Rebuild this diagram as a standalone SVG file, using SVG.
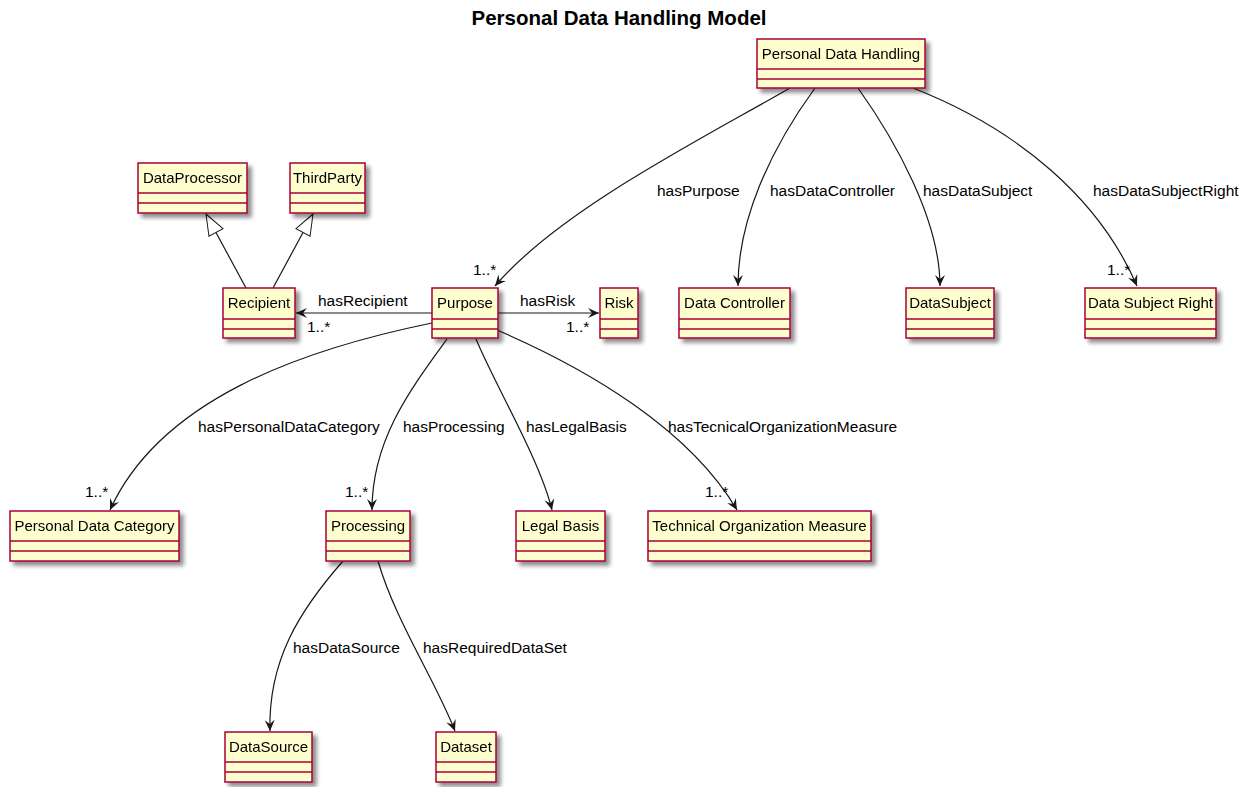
<svg xmlns="http://www.w3.org/2000/svg" width="1252" height="787" viewBox="0 0 1252 787">
<defs>
  <filter id="sh" x="-20%" y="-20%" width="150%" height="160%">
    <feGaussianBlur in="SourceAlpha" stdDeviation="2"/>
    <feOffset dx="4" dy="4" result="b"/>
    <feComponentTransfer><feFuncA type="linear" slope="0.45"/></feComponentTransfer>
    <feMerge><feMergeNode/><feMergeNode in="SourceGraphic"/></feMerge>
  </filter>
  <marker id="arr" markerUnits="userSpaceOnUse" markerWidth="14" markerHeight="12" refX="12" refY="6" orient="auto">
    <path d="M12,6 L1,1 L5,6 L1,11 Z" fill="#181818"/>
  </marker>
  <marker id="gen" markerUnits="userSpaceOnUse" markerWidth="26" markerHeight="20" refX="23" refY="10" orient="auto">
    <path d="M23,10 L2,2 L2,18 Z" fill="#ffffff" stroke="#181818" stroke-width="1"/>
  </marker>
</defs>
<style>
  .box{fill:#FEFECE;stroke:#A80036;stroke-width:1.5}
  .sep{stroke:#A80036;stroke-width:1.5}
  .cn{font-family:"Liberation Sans",Arial,sans-serif;font-size:15px;fill:#000;text-anchor:middle}
  .lb{font-family:"Liberation Sans",Arial,sans-serif;font-size:15.5px;fill:#000}
  .e{fill:none;stroke:#181818;stroke-width:1.2}
  .title{font-family:"Liberation Sans",Arial,sans-serif;font-size:20.5px;font-weight:bold;fill:#000;text-anchor:middle}
</style>
<rect width="1252" height="787" fill="#ffffff"/>
<text class="title" x="619" y="25">Personal Data Handling Model</text>

<g id="edges">
  <path class="e" d="M790,88 C700,140 560,210 495,286" marker-end="url(#arr)"/>
  <path class="e" d="M815,88 C770,150 738,220 738,286" marker-end="url(#arr)"/>
  <path class="e" d="M858,88 C895,140 940,220 940,286" marker-end="url(#arr)"/>
  <path class="e" d="M913,88 C1020,130 1100,200 1137,286" marker-end="url(#arr)"/>
  <path class="e" d="M246,288 L206,214" marker-end="url(#gen)"/>
  <path class="e" d="M273,288 L313,214" marker-end="url(#gen)"/>
  <path class="e" d="M432,313 L296,313" marker-end="url(#arr)"/>
  <path class="e" d="M498,313 L599,313" marker-end="url(#arr)"/>
  <path class="e" d="M432,323 C300,350 160,400 110,510" marker-end="url(#arr)"/>
  <path class="e" d="M447,339 C410,390 372,440 372,510" marker-end="url(#arr)"/>
  <path class="e" d="M476,339 C495,385 540,460 552,510" marker-end="url(#arr)"/>
  <path class="e" d="M497,330 C590,370 690,430 737,510" marker-end="url(#arr)"/>
  <path class="e" d="M343,561 C300,610 268,660 270,731" marker-end="url(#arr)"/>
  <path class="e" d="M378,561 C395,620 435,680 455,731" marker-end="url(#arr)"/>
  <g id="edge-labels">
    <text class="lb" x="657" y="196">hasPurpose</text>
    <text class="lb" x="770" y="196">hasDataController</text>
    <text class="lb" x="923" y="196">hasDataSubject</text>
    <text class="lb" x="1093" y="196">hasDataSubjectRight</text>
    <text class="lb" x="473" y="275">1..*</text>
    <text class="lb" x="1107" y="275">1..*</text>
    <text class="lb" x="318" y="306">hasRecipient</text>
    <text class="lb" x="307" y="332">1..*</text>
    <text class="lb" x="520" y="306">hasRisk</text>
    <text class="lb" x="566" y="332">1..*</text>
    <text class="lb" x="198" y="432">hasPersonalDataCategory</text>
    <text class="lb" x="403" y="432">hasProcessing</text>
    <text class="lb" x="526" y="432">hasLegalBasis</text>
    <text class="lb" x="668" y="432">hasTecnicalOrganizationMeasure</text>
    <text class="lb" x="85" y="497">1..*</text>
    <text class="lb" x="345" y="497">1..*</text>
    <text class="lb" x="705" y="497">1..*</text>
    <text class="lb" x="293" y="653">hasDataSource</text>
    <text class="lb" x="423" y="653">hasRequiredDataSet</text>
  </g>
</g>

<g id="n-pdh" filter="url(#sh)">
  <rect class="box" x="757" y="39" width="168" height="49"/>
  <line class="sep" x1="757" y1="69" x2="925" y2="69"/><line class="sep" x1="757" y1="79" x2="925" y2="79"/>
  <text class="cn" x="841" y="59">Personal Data Handling</text>
</g>
<g id="n-dataprocessor" filter="url(#sh)">
  <rect class="box" x="138" y="163" width="109" height="50"/>
  <line class="sep" x1="138" y1="193" x2="247" y2="193"/><line class="sep" x1="138" y1="203" x2="247" y2="203"/>
  <text class="cn" x="192.5" y="183">DataProcessor</text>
</g>
<g id="n-thirdparty" filter="url(#sh)">
  <rect class="box" x="290" y="163" width="75" height="50"/>
  <line class="sep" x1="290" y1="193" x2="365" y2="193"/><line class="sep" x1="290" y1="203" x2="365" y2="203"/>
  <text class="cn" x="327.5" y="183">ThirdParty</text>
</g>
<g id="n-recipient" filter="url(#sh)">
  <rect class="box" x="223" y="288" width="72" height="50"/>
  <line class="sep" x1="223" y1="319" x2="295" y2="319"/><line class="sep" x1="223" y1="329" x2="295" y2="329"/>
  <text class="cn" x="259" y="308">Recipient</text>
</g>
<g id="n-purpose" filter="url(#sh)">
  <rect class="box" x="432" y="288" width="66" height="50"/>
  <line class="sep" x1="432" y1="319" x2="498" y2="319"/><line class="sep" x1="432" y1="329" x2="498" y2="329"/>
  <text class="cn" x="465" y="308">Purpose</text>
</g>
<g id="n-risk" filter="url(#sh)">
  <rect class="box" x="600" y="288" width="38" height="50"/>
  <line class="sep" x1="600" y1="319" x2="638" y2="319"/><line class="sep" x1="600" y1="329" x2="638" y2="329"/>
  <text class="cn" x="619" y="308">Risk</text>
</g>
<g id="n-datacontroller" filter="url(#sh)">
  <rect class="box" x="679" y="288" width="111" height="50"/>
  <line class="sep" x1="679" y1="319" x2="790" y2="319"/><line class="sep" x1="679" y1="329" x2="790" y2="329"/>
  <text class="cn" x="734.5" y="308">Data Controller</text>
</g>
<g id="n-datasubject" filter="url(#sh)">
  <rect class="box" x="906" y="288" width="88" height="50"/>
  <line class="sep" x1="906" y1="319" x2="994" y2="319"/><line class="sep" x1="906" y1="329" x2="994" y2="329"/>
  <text class="cn" x="950" y="308">DataSubject</text>
</g>
<g id="n-datasubjectright" filter="url(#sh)">
  <rect class="box" x="1085" y="288" width="131" height="50"/>
  <line class="sep" x1="1085" y1="319" x2="1216" y2="319"/><line class="sep" x1="1085" y1="329" x2="1216" y2="329"/>
  <text class="cn" x="1150.5" y="308">Data Subject Right</text>
</g>
<g id="n-pdc" filter="url(#sh)">
  <rect class="box" x="10" y="511" width="169" height="50"/>
  <line class="sep" x1="10" y1="541" x2="179" y2="541"/><line class="sep" x1="10" y1="551" x2="179" y2="551"/>
  <text class="cn" x="94.5" y="531">Personal Data Category</text>
</g>
<g id="n-processing" filter="url(#sh)">
  <rect class="box" x="326" y="511" width="84" height="50"/>
  <line class="sep" x1="326" y1="541" x2="410" y2="541"/><line class="sep" x1="326" y1="551" x2="410" y2="551"/>
  <text class="cn" x="368" y="531">Processing</text>
</g>
<g id="n-legalbasis" filter="url(#sh)">
  <rect class="box" x="516" y="511" width="89" height="50"/>
  <line class="sep" x1="516" y1="541" x2="605" y2="541"/><line class="sep" x1="516" y1="551" x2="605" y2="551"/>
  <text class="cn" x="560.5" y="531">Legal Basis</text>
</g>
<g id="n-tom" filter="url(#sh)">
  <rect class="box" x="648" y="511" width="223" height="50"/>
  <line class="sep" x1="648" y1="541" x2="871" y2="541"/><line class="sep" x1="648" y1="551" x2="871" y2="551"/>
  <text class="cn" x="759.5" y="531">Technical Organization Measure</text>
</g>
<g id="n-datasource" filter="url(#sh)">
  <rect class="box" x="225" y="732" width="87" height="50"/>
  <line class="sep" x1="225" y1="762" x2="312" y2="762"/><line class="sep" x1="225" y1="772" x2="312" y2="772"/>
  <text class="cn" x="268.5" y="752">DataSource</text>
</g>
<g id="n-dataset" filter="url(#sh)">
  <rect class="box" x="436" y="732" width="60" height="50"/>
  <line class="sep" x1="436" y1="762" x2="496" y2="762"/><line class="sep" x1="436" y1="772" x2="496" y2="772"/>
  <text class="cn" x="466" y="752">Dataset</text>
</g>
</svg>
